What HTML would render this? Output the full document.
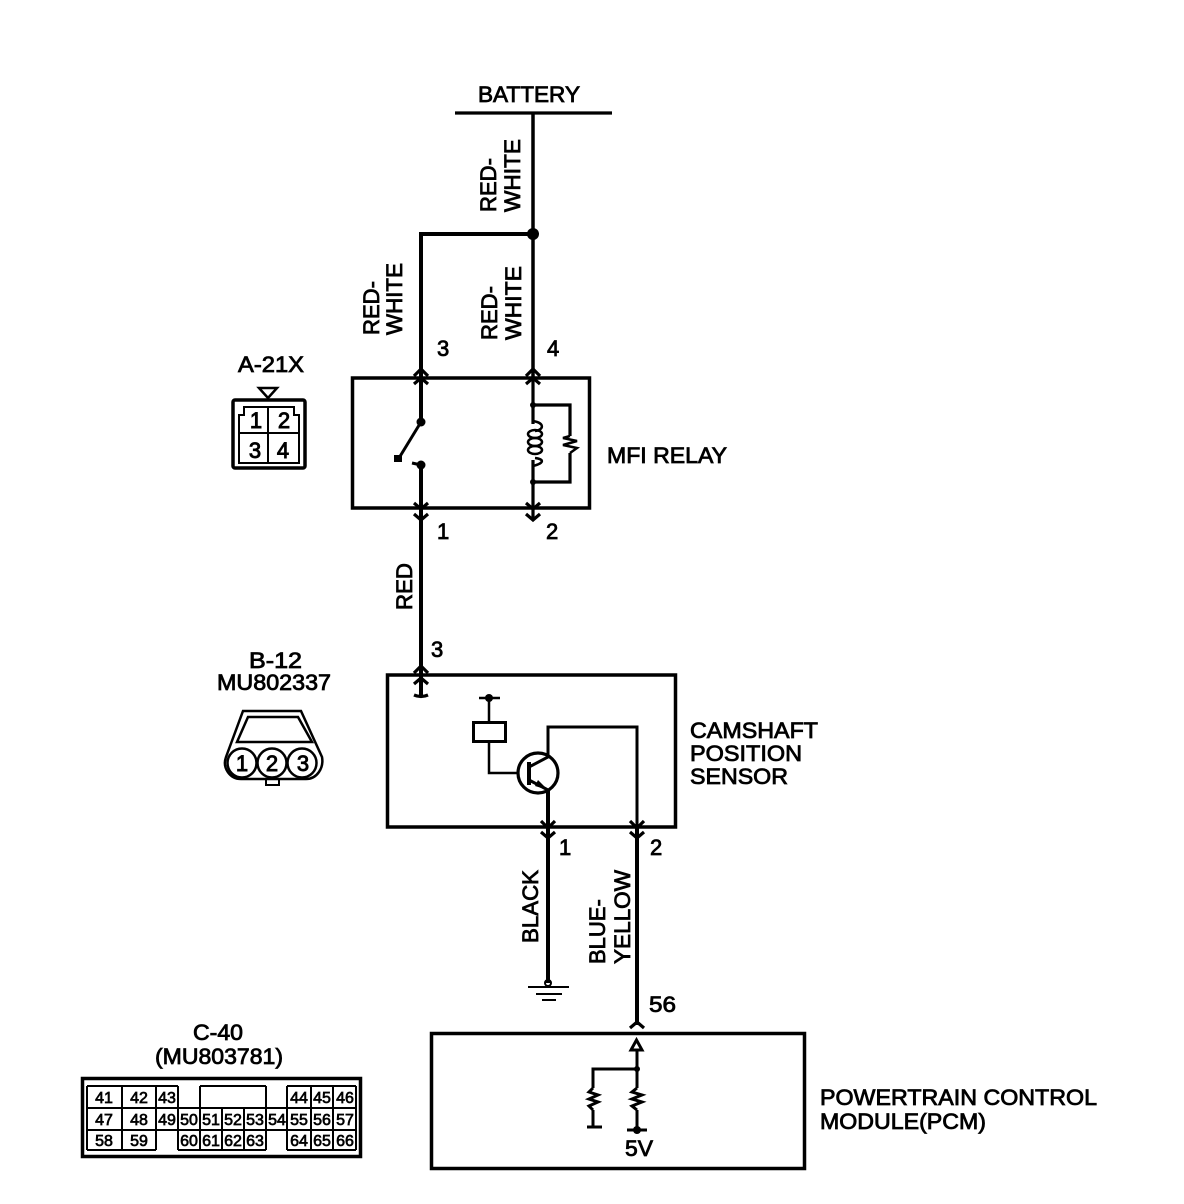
<!DOCTYPE html>
<html><head><meta charset="utf-8"><style>
html,body{margin:0;padding:0;background:#fff}
svg{display:block}
text{font-family:"Liberation Sans",sans-serif;font-size:22px;fill:#000;stroke:#000;stroke-width:.8px}
.n{font-size:16px;text-anchor:middle;stroke-width:.7px}
.p{font-size:22px;text-anchor:middle;stroke-width:.9px}
</style></head><body>
<svg width="1184" height="1204" viewBox="0 0 1184 1204" xmlns="http://www.w3.org/2000/svg">
<rect width="1184" height="1204" fill="#fff"/>
<g fill="none" stroke="#000" stroke-width="3.2">
<path d="M455 113H612"/>
<path d="M533 113V378" stroke-width="3.5"/>
<path d="M533 234H421V422" stroke-width="4"/>
<path d="M421 465V696" stroke-width="4"/>
<rect x="352.500" y="378" width="237" height="130" stroke-width="3.500"/>
<path d="M533 378V424M533 460V520"/>
<path d="M533 405H570V436M570 453V482H533"/>
<path d="M533 421C545 423 544 430 535 431M535 458C544 459 545 463 533 466" stroke-width="2.500"/>
<ellipse cx="535" cy="434" rx="7" ry="4" stroke-width="2.500"/>
<ellipse cx="535" cy="442" rx="7" ry="4" stroke-width="2.500"/>
<ellipse cx="535" cy="450" rx="7" ry="4" stroke-width="2.500"/>
<path d="M570 436L563 438L577 441L563 445L577 448L570 453" stroke-width="2.500"/>
<path d="M421 422L399 458" stroke-width="3"/>
<path d="M412 463L421 465"/>
<path d="M414 376L421 369L428 376M414 384L421 378L428 384M526 376L533 369L540 376M526 384L533 378L540 384"/>
<path d="M414 503L421 509L428 503M414 514L421 520L428 514M526 503L533 509L540 503M526 514L533 520L540 514"/>
<rect x="387.500" y="675" width="288" height="152" stroke-width="3.500"/>
<path d="M414 673L421 666L428 673M414 684L421 678L428 684M414 695Q421 698 428 695"/>
<path d="M479 698H500M489 698V722M489 741V773H518" stroke-width="2.500"/>
<rect x="473.500" y="722.500" width="32" height="19" stroke-width="3"/>
<circle cx="538" cy="773" r="20"/>
<path d="M529 762V785" stroke-width="4"/>
<path d="M529 767L548 757V727H637V827" stroke-width="3"/>
<path d="M529 780L548 790" stroke-width="3"/>
<path d="M548 790V983" stroke-width="4"/>
<path d="M637 827V1025" stroke-width="4"/>
<path d="M541 821L548 828L555 821M541 832L548 838L555 832M630 821L637 828L644 821M630 832L637 838L644 832"/>
<circle cx="548" cy="983" r="3" stroke-width="2"/>
<path d="M528 987H569M536 994H562M542 1000H556" stroke-width="2"/>
<path d="M630 1028L637 1022L644 1028"/>
<rect x="431.500" y="1033.500" width="373" height="135" stroke-width="3.500"/>
<path d="M636.500 1040L631 1050H642Z" stroke-width="3"/>
<path d="M637 1050V1088M637 1110V1130M593 1110V1127M593 1088V1069H637" stroke-width="3"/>
<path d="M587 1127H602M627 1130H647" stroke-width="3"/>
<path d="M593 1088L589 1092L598 1095L589 1099L598 1102L589 1106L593 1110M637 1088L632 1092L642 1095L632 1099L642 1102L632 1106L637 1110" stroke-width="3"/>
<rect x="233" y="400" width="72" height="68" rx="2" stroke-width="3.500"/>
<path d="M239 463V415H244V407H294V415H299V463ZM268 407V463M239 433H299" stroke-width="2"/>
<path d="M259 388H277L268 398Z" stroke-width="2.500"/>
<path d="M243 711H301L322 757C324 768 317 779 306 779H241C230 779 222 768 226 757Z" stroke-width="2.500"/>
<path d="M237 742L248 717H298L312 742Z" stroke-width="2.500"/>
<circle cx="242" cy="763" r="14.500" stroke-width="2.500" fill="#fff"/>
<circle cx="272" cy="763" r="14.500" stroke-width="2.500" fill="#fff"/>
<circle cx="302" cy="763" r="14.500" stroke-width="2.500" fill="#fff"/>
<path d="M266 780V785H279V780" stroke-width="2"/>
<rect x="82.500" y="1078.500" width="278" height="78" stroke-width="3.500"/>
<g stroke-width="2">
<path d="M87 1086H178M200 1086H266M287 1086H356M87 1108H356M87 1130H356M87 1150H156M178 1150H266M287 1150H356"/>
<path d="M87 1086V1150M122 1086V1150M156 1086V1150M178 1086V1108M178 1108V1150M200 1086V1150M222 1108V1150M244 1108V1150M266 1086V1150M287 1086V1150M311 1086V1150M333 1086V1150M356 1086V1150"/>
</g>
</g>
<g fill="#000" stroke="none">
<circle cx="533" cy="234" r="6"/>
<circle cx="421" cy="422" r="4.500"/>
<circle cx="421" cy="465" r="4.500"/>
<rect x="394" y="455" width="8" height="7"/>
<circle cx="533" cy="405" r="3"/>
<circle cx="533" cy="482" r="3"/>
<circle cx="489" cy="698" r="4"/>
<circle cx="637" cy="1069" r="3"/>
<circle cx="637" cy="1130" r="4"/>
<path d="M548 790L538 780L535 786Z"/>
</g>
<text x="478" y="102" textLength="102" lengthAdjust="spacingAndGlyphs">BATTERY</text>
<text transform="translate(496,212) rotate(-90)" textLength="54" lengthAdjust="spacingAndGlyphs">RED-</text>
<text transform="translate(520,212) rotate(-90)" textLength="73" lengthAdjust="spacingAndGlyphs">WHITE</text>
<text transform="translate(497,340) rotate(-90)" textLength="54" lengthAdjust="spacingAndGlyphs">RED-</text>
<text transform="translate(521,340) rotate(-90)" textLength="74" lengthAdjust="spacingAndGlyphs">WHITE</text>
<text transform="translate(379,335) rotate(-90)" textLength="54" lengthAdjust="spacingAndGlyphs">RED-</text>
<text transform="translate(402,335) rotate(-90)" textLength="72" lengthAdjust="spacingAndGlyphs">WHITE</text>
<text transform="translate(412,610) rotate(-90)" textLength="47" lengthAdjust="spacingAndGlyphs">RED</text>
<text transform="translate(538,943) rotate(-90)" textLength="73" lengthAdjust="spacingAndGlyphs">BLACK</text>
<text transform="translate(605,964) rotate(-90)">BLUE-</text>
<text transform="translate(630,964) rotate(-90)" textLength="94" lengthAdjust="spacingAndGlyphs">YELLOW</text>
<text x="437" y="356">3</text><text x="547" y="356">4</text>
<text x="437" y="539">1</text><text x="546" y="539">2</text>
<text x="431" y="657">3</text>
<text x="559" y="855">1</text><text x="650" y="855">2</text>
<text x="649" y="1012" textLength="27" lengthAdjust="spacingAndGlyphs">56</text>
<text x="238" y="372" textLength="66" lengthAdjust="spacingAndGlyphs">A-21X</text>
<text x="607" y="463" textLength="120" lengthAdjust="spacingAndGlyphs">MFI RELAY</text>
<text x="249" y="668" textLength="53" lengthAdjust="spacingAndGlyphs">B-12</text>
<text x="217" y="690" textLength="114" lengthAdjust="spacingAndGlyphs">MU802337</text>
<text x="690" y="738" textLength="128" lengthAdjust="spacingAndGlyphs">CAMSHAFT</text>
<text x="690" y="761" textLength="112" lengthAdjust="spacingAndGlyphs">POSITION</text>
<text x="690" y="784" textLength="98" lengthAdjust="spacingAndGlyphs">SENSOR</text>
<text x="193" y="1040" textLength="50" lengthAdjust="spacingAndGlyphs">C-40</text>
<text x="155" y="1064" textLength="128" lengthAdjust="spacingAndGlyphs">(MU803781)</text>
<text x="820" y="1105" textLength="277" lengthAdjust="spacingAndGlyphs">POWERTRAIN CONTROL</text>
<text x="820" y="1129" textLength="166" lengthAdjust="spacingAndGlyphs">MODULE(PCM)</text>
<text x="625" y="1156" textLength="28" lengthAdjust="spacingAndGlyphs">5V</text>
<text class="p" x="256" y="428">1</text><text class="p" x="284" y="428">2</text>
<text class="p" x="255" y="458">3</text><text class="p" x="283" y="458">4</text>
<text class="p" x="242" y="771">1</text><text class="p" x="272" y="771">2</text><text class="p" x="303" y="771">3</text>
<g>
<text class="n" x="104" y="1103">41</text><text class="n" x="139" y="1103">42</text><text class="n" x="167" y="1103">43</text>
<text class="n" x="299" y="1103">44</text><text class="n" x="322" y="1103">45</text><text class="n" x="345" y="1103">46</text>
<text class="n" x="104" y="1125">47</text><text class="n" x="139" y="1125">48</text><text class="n" x="167" y="1125">49</text>
<text class="n" x="189" y="1125">50</text><text class="n" x="211" y="1125">51</text><text class="n" x="233" y="1125">52</text>
<text class="n" x="255" y="1125">53</text><text class="n" x="277" y="1125">54</text><text class="n" x="299" y="1125">55</text>
<text class="n" x="322" y="1125">56</text><text class="n" x="345" y="1125">57</text>
<text class="n" x="104" y="1146">58</text><text class="n" x="139" y="1146">59</text>
<text class="n" x="189" y="1146">60</text><text class="n" x="211" y="1146">61</text><text class="n" x="233" y="1146">62</text>
<text class="n" x="255" y="1146">63</text><text class="n" x="299" y="1146">64</text><text class="n" x="322" y="1146">65</text><text class="n" x="345" y="1146">66</text>
</g>
</svg>
</body></html>
